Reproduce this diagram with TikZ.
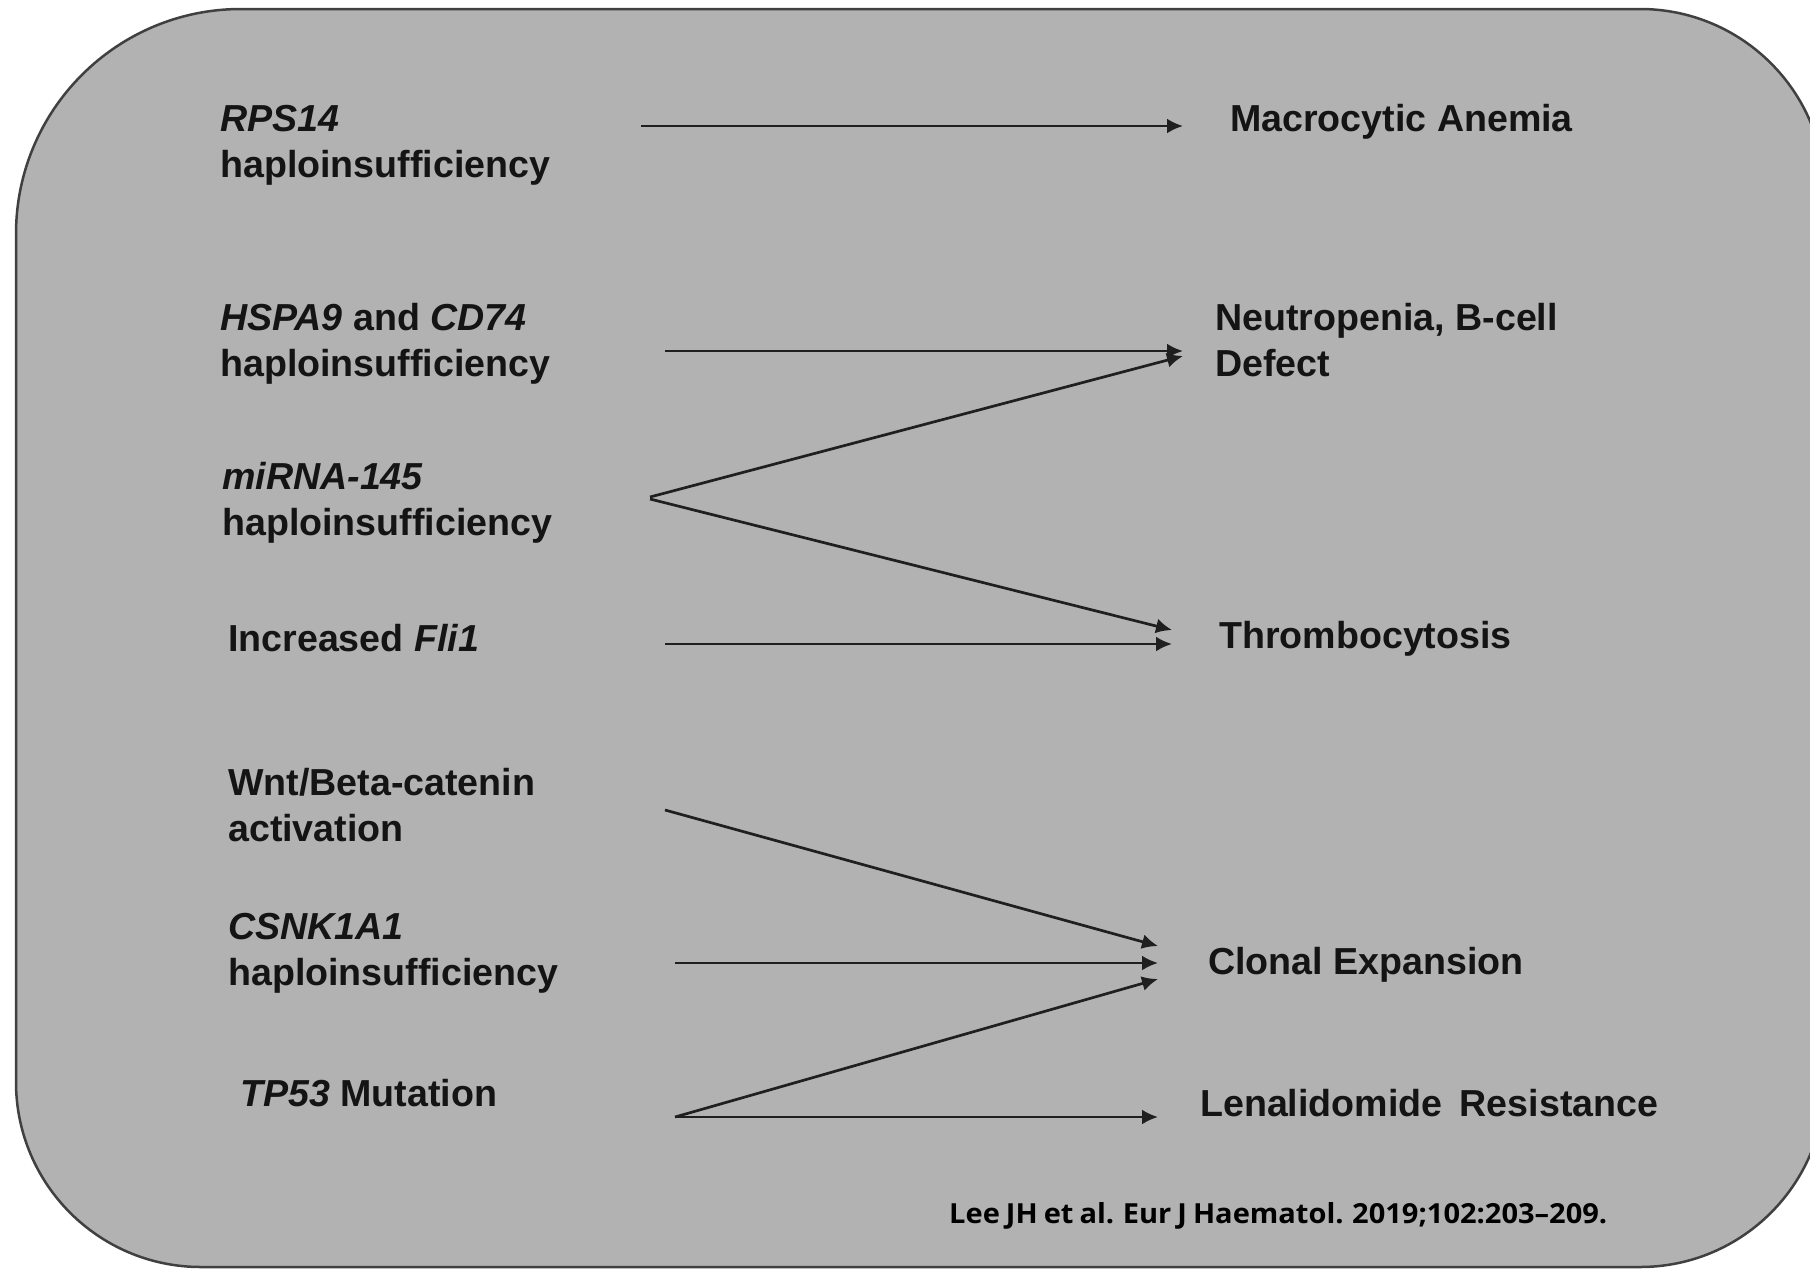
\documentclass[tikz,border=0pt]{standalone}
\usepackage{fontspec}
\setmainfont{Liberation Sans}
\newfontfamily\citefont[WordSpace=0.8]{Open Sans}
\usetikzlibrary{arrows.meta}
\begin{document}
\begin{tikzpicture}[x=1pt,y=-1pt,
  lbl/.style={anchor=base west,inner sep=0pt,font=\fontsize{37.6}{46}\selectfont\bfseries,align=left,text=black!92},
  conn/.style={draw=black!88,line width=2.7pt,-{Latex[length=16pt,width=15pt]}}]
\useasboundingbox (0,0) rectangle (1810,1270);
\fill[white] (0,0) rectangle (1810,1270);
\draw[draw=black!75,line width=2.5pt,fill=black!30]
  (16,640) [rounded corners=225pt] -- (16,9) [rounded corners=185pt] -- (1825,9)
  [rounded corners=185pt] -- (1825,1267) [rounded corners=185pt] -- (16,1267) [sharp corners] -- cycle;

% left labels (anchored at the baseline of the last line)
\node[lbl] (rps) at (220,177) {\textit{RPS14}\\haploinsufficiency};
\node[lbl] (hspa) at (220,376) {\textit{HSPA9} and \textit{CD74}\\haploinsufficiency};
\node[lbl] (mir) at (222,535) {\textit{miRNA-145}\\haploinsufficiency};
\node[lbl] (fli) at (228,651) {Increased \textit{Fli1}};
\node[lbl] (wnt) at (228,841) {Wnt/Beta-catenin\\activation};
\node[lbl] (csn) at (228,985) {\textit{CSNK1A1}\\haploinsufficiency};
\node[lbl] (tp) at (240,1106) {\textit{TP53} Mutation};

% right labels
\node[lbl] (mac) at (1230,131) {Macrocytic Anemia};
\node[lbl] (neu) at (1215,376) {Neutropenia, B-cell\\Defect};
\node[lbl] (thr) at (1219,648) {Thrombocytosis};
\node[lbl] (clo) at (1208,974) {Clonal Expansion};
\node[lbl] (len) at (1200,1116) {Lenalidomide\hspace{0.18em} Resistance};

\node[anchor=base west,inner sep=0pt,text=black] (cite) at (949,1223)
  {\resizebox{658pt}{21pt}{\citefont\bfseries Lee JH et al. Eur J Haematol. 2019;102:203–209.}};

% connector end points
\coordinate (s1) at (641,126);   \coordinate (e1) at (1183,126);
\coordinate (s2) at (665,351);   \coordinate (e2) at (1183,351);
\coordinate (s3) at (650,497);   \coordinate (e3) at (1183,356);
\coordinate (s4) at (650,499);   \coordinate (e4) at (1172,630);
\coordinate (s5) at (665,644);   \coordinate (e5) at (1172,644);
\coordinate (s6) at (665,810);   \coordinate (e6) at (1158,946);
\coordinate (s7) at (675,963);   \coordinate (e7) at (1158,963);
\coordinate (s8) at (675,1117);  \coordinate (e8) at (1158,979);
\coordinate (e9) at (1158,1117);

\draw[conn] (s1) -- (e1);
\draw[conn] (s2) -- (e2);
\draw[conn] (s3) -- (e3);
\draw[conn] (s4) -- (e4);
\draw[conn] (s5) -- (e5);
\draw[conn] (s6) -- (e6);
\draw[conn] (s7) -- (e7);
\draw[conn] (s8) -- (e8);
\draw[conn] (s8) -- (e9);
\end{tikzpicture}
\end{document}
